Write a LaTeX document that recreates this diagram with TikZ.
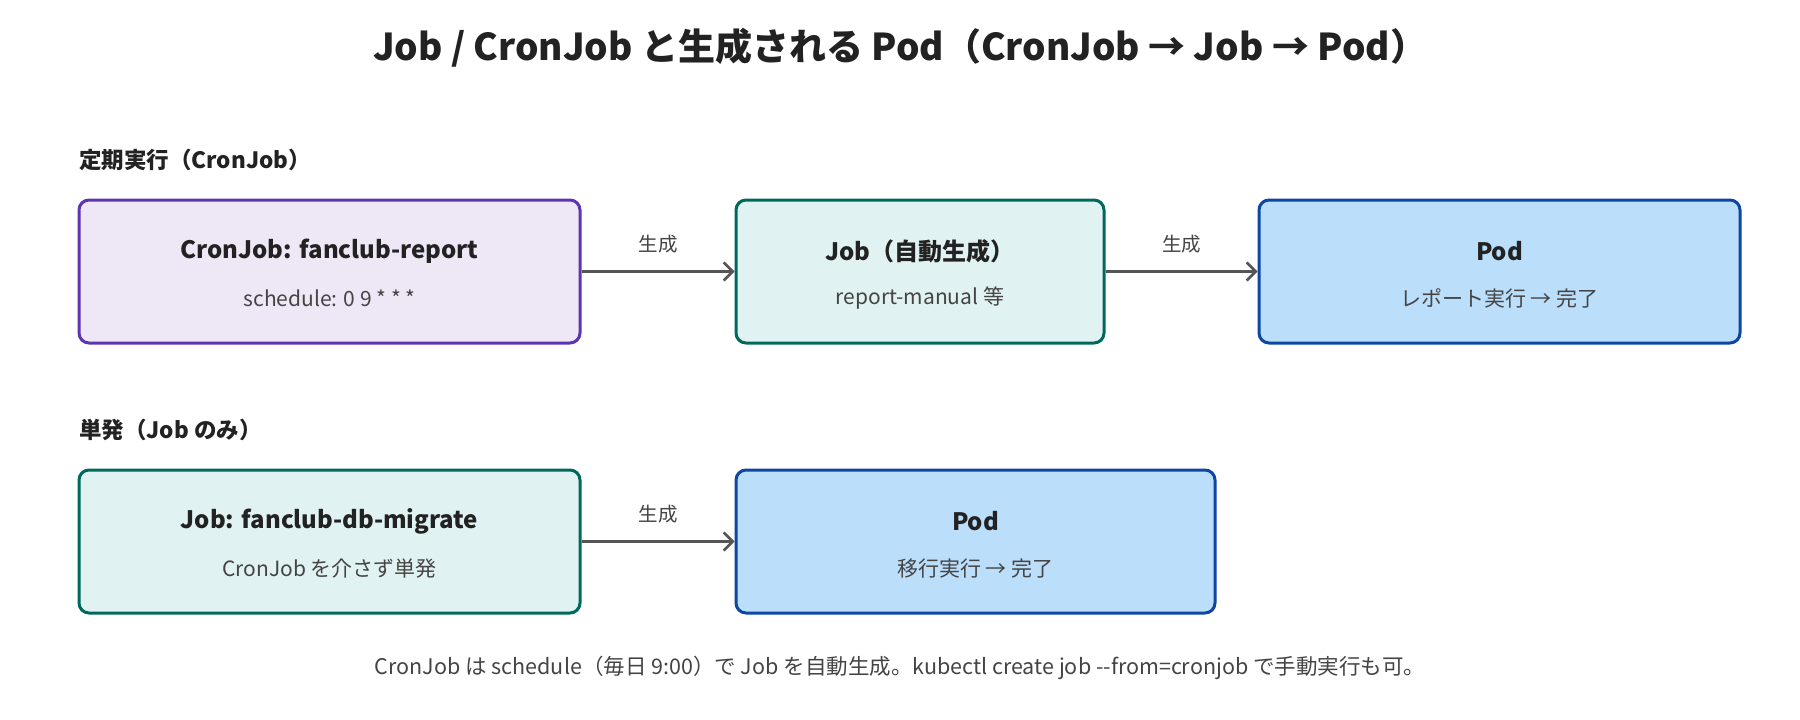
\documentclass[tikz,border=0pt]{standalone}
\usepackage{fontspec}
\setmainfont{Noto Sans CJK JP}
\usetikzlibrary{arrows.meta,calc}
\definecolor{txt}{HTML}{222222}
\definecolor{sub}{HTML}{444444}
\definecolor{arr}{HTML}{555555}
\definecolor{pfill}{HTML}{EDE7F6}
\definecolor{pline}{HTML}{5E35B1}
\definecolor{gfill}{HTML}{E0F2F1}
\definecolor{gline}{HTML}{00695C}
\definecolor{bfill}{HTML}{BBDEFB}
\definecolor{bline}{HTML}{0D47A1}
\tikzset{
  box/.style={draw, line width=3pt, rounded corners=10pt, inner sep=0pt},
  purplebox/.style={box, draw=pline, fill=pfill},
  greenbox/.style={box, draw=gline, fill=gfill},
  bluebox/.style={box, draw=bline, fill=bfill},
  boxtitle/.style={font=\fontsize{24}{28}\selectfont\bfseries, text=txt, inner sep=0pt},
  boxsub/.style={font=\fontsize{21}{25}\selectfont, text=sub, inner sep=0pt},
  section/.style={font=\fontsize{22.5}{27}\selectfont\bfseries, text=txt, anchor=west, inner sep=0pt},
  flow/.style={draw=arr, line width=2.5pt, -{Straight Barb[length=9pt,width=18pt,line width=2.5pt]}},
  flowlabel/.style={font=\fontsize{19.5}{23}\selectfont, text=sub, inner sep=0pt}
}
\begin{document}
\begin{tikzpicture}[x=1pt,y=-1pt]
\useasboundingbox[fill=white] (0,0) rectangle (1800,720);
\node[font=\fontsize{37}{44}\selectfont\bfseries, text=txt, inner sep=0pt] (title) at (900,48) {Job / CronJob と生成される Pod（CronJob → Job → Pod）};
\node[section] (sec1) at (79,160) {定期実行（CronJob）};
\node[section] (sec2) at (79,430) {単発（Job のみ）};
% row 1
\node[purplebox, minimum width=501pt, minimum height=143pt] (cron) at (329.5,271.5) {};
\node[boxtitle] (cront) at ($(cron.center)+(0,-20)$) {CronJob: fanclub-report};
\node[boxsub] (crons) at ($(cron.center)+(0,27)$) {schedule: 0 9 * * *};
\node[greenbox, minimum width=368pt, minimum height=143pt] (job) at (920,271.5) {};
\node[boxtitle] (jobt) at ($(job.center)+(0,-20)$) {Job（自動生成）};
\node[boxsub] (jobs) at ($(job.center)+(0,27)$) {report-manual 等};
\node[bluebox, minimum width=481pt, minimum height=143pt] (pod) at (1499.5,271.5) {};
\node[boxtitle] (podt) at ($(pod.center)+(0,-20)$) {Pod};
\node[boxsub] (pods) at ($(pod.center)+(0,27)$) {レポート実行 → 完了};
\draw[flow] (cron) -- (job) node[flowlabel, midway, above=17pt] (l1) {生成};
\draw[flow] (job) -- (pod) node[flowlabel, midway, above=17pt] (l2) {生成};
% row 2
\node[greenbox, minimum width=501pt, minimum height=143pt] (mig) at (329.5,541.5) {};
\node[boxtitle] (migt) at ($(mig.center)+(0,-20)$) {Job: fanclub-db-migrate};
\node[boxsub] (migs) at ($(mig.center)+(0,27)$) {CronJob を介さず単発};
\node[bluebox, minimum width=479pt, minimum height=143pt] (pod2) at (975.5,541.5) {};
\node[boxtitle] (pod2t) at ($(pod2.center)+(0,-20)$) {Pod};
\node[boxsub] (pod2s) at ($(pod2.center)+(0,27)$) {移行実行 → 完了};
\draw[flow] (mig) -- (pod2) node[flowlabel, midway, above=17pt] (l3) {生成};
% footer
\node[font=\fontsize{21.5}{26}\selectfont, text=sub, inner sep=0pt] (foot) at (900,668) {CronJob は schedule（毎日 9:00）で Job を自動生成。kubectl create job -{}-from=cronjob で手動実行も可。};
\end{tikzpicture}
\end{document}
